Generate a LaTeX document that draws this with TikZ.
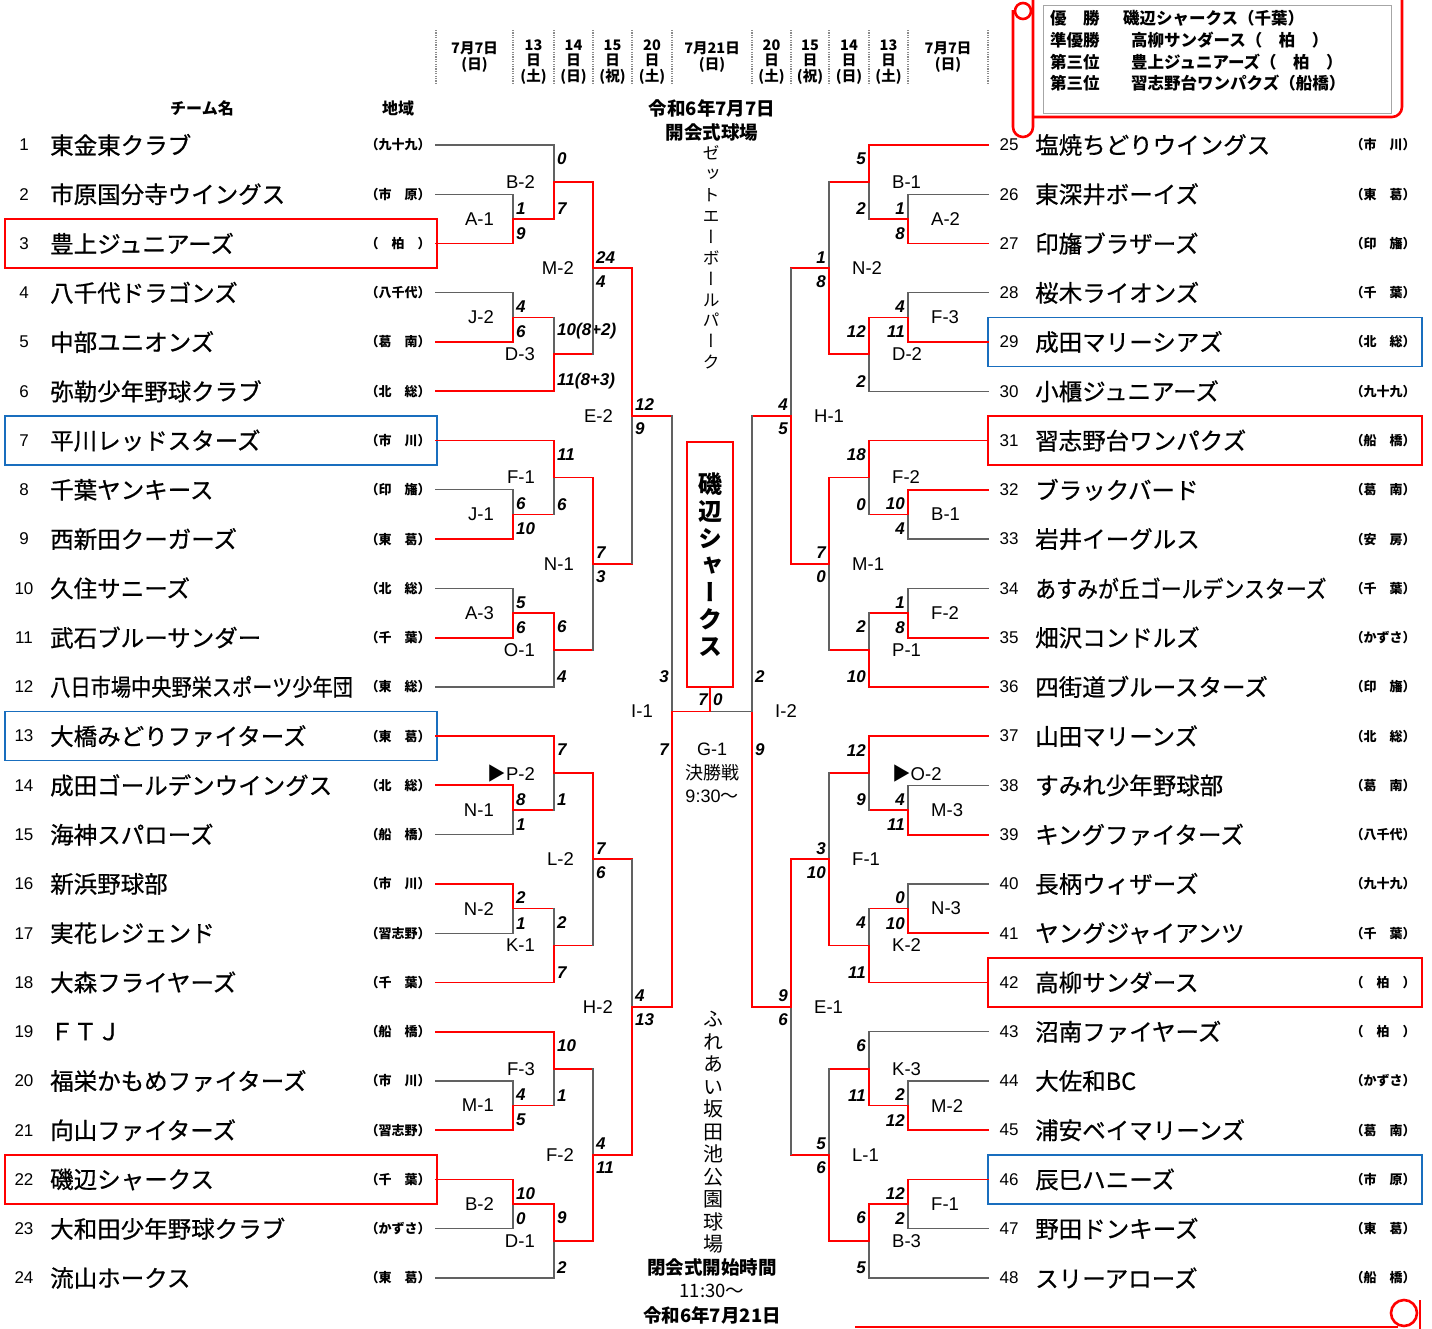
\documentclass[tikz,border=0pt]{standalone}
\usepackage{fontspec}
\setmainfont{Noto Sans CJK JP}
\newfontfamily\vertfont[RawFeature=+vert]{Noto Sans CJK JP}
\newfontfamily\teamfont[FakeBold=0.7]{Noto Sans CJK JP}
\newfontfamily\latinfont{Liberation Sans}
\usetikzlibrary{calc}
\definecolor{markblue}{RGB}{25,110,190}

\def\firsttok#1#2\relax{#1}
\newcommand\narrow[2][0.86]{\scalebox{#1}[1]{#2}}
\newcommand\seg[3]{\if w#1\draw[win] (#2) -- (#3);\else\draw[lose] (#2) -- (#3);\fi}
\newcommand\bout[8]{%
  \path let \p1=(#3), \p2=(#4) in (#2pt,{(\y1+\y2)/2}) coordinate (#1);
  \if a#5\def\resA{w}\def\resB{l}\else\def\resA{l}\def\resB{w}\fi
  \if t\firsttok#3\relax\let\feedA\resA\else\def\feedA{w}\fi
  \if t\firsttok#4\relax\let\feedB\resB\else\def\feedB{w}\fi
  \seg{\feedA}{#3}{#3 -| #1}
  \seg{\resA}{#3 -| #1}{#1}
  \seg{\feedB}{#4}{#4 -| #1}
  \seg{\resB}{#4 -| #1}{#1}
  \node[lbl, lpos] at ($(#1)+(\ldx,0)$) {#6};
  \ifcase\smode
    \node[score, spos] at ($(#3 -| #1)+(\sdx,14)$) {#7};
    \node[score, spos] at ($(#4 -| #1)+(\sdx,-10)$) {#8};
  \or
    \node[score, spos] at ($(#1)+(\sdx,-11)$) {#7};
    \node[score, spos] at ($(#1)+(\sdx,13)$) {#8};
  \fi
}
\newcommand\markL[2]{\draw[#1] ($(t#2)+(-431,-24.5)$) rectangle ($(t#2)+(1,24.5)$);}
\newcommand\markR[2]{\draw[#1] ($(t#2)+(0,-24.5)$) rectangle ($(t#2)+(434,24.5)$);}

\begin{document}
\begin{tikzpicture}[x=1pt, y=-1pt,
  win/.style={red, line width=1.8pt, line cap=rect},
  lose/.style={black!62, line width=1.3pt, line cap=rect},
  redmark/.style={red, line width=1.4pt},
  bluemark/.style={markblue, line width=1.2pt},
  scroll/.style={red, line width=2.6pt},
  sep/.style={black!45, line width=1.2pt, dash pattern=on 1.2pt off 1.2pt},
  num/.style={inner sep=0pt, font=\latinfont\fontsize{17}{17}\selectfont},
  team/.style={inner sep=0pt, anchor=west, font=\teamfont\fontsize{23.5}{24}\selectfont},
  area/.style={inner sep=0pt, font=\bfseries\fontsize{13}{13}\selectfont},
  head/.style={inner sep=0pt, font=\bfseries\fontsize{16}{16}\selectfont},
  date/.style={inner sep=0pt, align=center, font=\bfseries\fontsize{14.5}{15.5}\selectfont},
  title/.style={inner sep=0pt, font=\bfseries\fontsize{18.5}{18.5}\selectfont},
  legend/.style={inner sep=0pt, anchor=west, font=\bfseries\fontsize{16.5}{16.5}\selectfont},
  lbl/.style={inner sep=0pt, font=\latinfont\fontsize{18.5}{18.5}\selectfont},
  score/.style={inner sep=0pt, font=\latinfont\bfseries\itshape\fontsize{17}{17}\selectfont},
  leftside/.style={lpos/.style={anchor=east}, spos/.style={anchor=west}, /utils/exec={\def\ldx{-19}\def\sdx{3}}},
  rightside/.style={lpos/.style={anchor=west}, spos/.style={anchor=east}, /utils/exec={\def\ldx{23}\def\sdx{-3}}},
  atends/.code={\def\smode{0}},
  atmid/.code={\def\smode{1}},
  noscore/.code={\def\smode{2}}]
\fill[white] (0,0) rectangle (1432,1328);
\useasboundingbox (0,0) rectangle (1432,1328);

\foreach \x in {436,513,554,593,632,672,752,791,829,869,908,988}
  \draw[sep] (\x,30) -- (\x,84);
\node[date] at (474.5,57) {\fontsize{14.5}{20}\selectfont 7月7日\\(日)};
\node[date] at (712,57) {\fontsize{14.5}{20}\selectfont 7月21日\\(日)};
\node[date] at (948,57) {\fontsize{14.5}{20}\selectfont 7月7日\\(日)};
\foreach \x/\d/\w in {533.5/13/土, 573.5/14/日, 612.5/15/祝, 652/20/土, 771.5/20/土, 810/15/祝, 849/14/日, 888.5/13/土}
  \node[date] at (\x,62) {\d\\日\\(\w)};

\node[head] at (202,108) {チーム名};
\node[head] at (398,108) {地域};

\foreach \k/\name/\area in {
  1/東金東クラブ/九十九,
  2/市原国分寺ウイングス/市　原,
  3/豊上ジュニアーズ/　柏　,
  4/八千代ドラゴンズ/八千代,
  5/中部ユニオンズ/葛　南,
  6/弥勒少年野球クラブ/北　総,
  7/平川レッドスターズ/市　川,
  8/千葉ヤンキース/印　旛,
  9/西新田クーガーズ/東　葛,
  10/久住サニーズ/北　総,
  11/武石ブルーサンダー/千　葉,
  12/\narrow{八日市場中央野栄スポーツ少年団}/東　総,
  13/大橋みどりファイターズ/東　葛,
  14/成田ゴールデンウイングス/北　総,
  15/海神スパローズ/船　橋,
  16/新浜野球部/市　川,
  17/実花レジェンド/習志野,
  18/大森フライヤーズ/千　葉,
  19/ＦＴＪ/船　橋,
  20/福栄かもめファイターズ/市　川,
  21/向山ファイターズ/習志野,
  22/磯辺シャークス/千　葉,
  23/大和田少年野球クラブ/かずさ,
  24/流山ホークス/東　葛}
{
  \pgfmathsetmacro\yy{145+(\k-1)*49.26}
  \node[num] (n\k) at (24,\yy) {\k};
  \node[team] (m\k) at (50,\yy) {\name};
  \node[area] (r\k) at (398,\yy) {（\area）};
  \coordinate (t\k) at (436,\yy);
}
\foreach \k/\name/\area in {
  25/塩焼ちどりウイングス/市　川,
  26/東深井ボーイズ/東　葛,
  27/印旛ブラザーズ/印　旛,
  28/桜木ライオンズ/千　葉,
  29/成田マリーシアズ/北　総,
  30/小櫃ジュニアーズ/九十九,
  31/習志野台ワンパクズ/船　橋,
  32/ブラックバード/葛　南,
  33/岩井イーグルス/安　房,
  34/\narrow[0.89]{あすみが丘ゴールデンスターズ}/千　葉,
  35/畑沢コンドルズ/かずさ,
  36/四街道ブルースターズ/印　旛,
  37/山田マリーンズ/北　総,
  38/すみれ少年野球部/葛　南,
  39/キングファイターズ/八千代,
  40/長柄ウィザーズ/九十九,
  41/ヤングジャイアンツ/千　葉,
  42/高柳サンダース/　柏　,
  43/沼南ファイヤーズ/　柏　,
  44/大佐和BC/かずさ,
  45/浦安ベイマリーンズ/葛　南,
  46/辰巳ハニーズ/市　原,
  47/野田ドンキーズ/東　葛,
  48/スリーアローズ/船　橋}
{
  \pgfmathsetmacro\yy{145+(\k-25)*49.26}
  \node[num] (n\k) at (1009,\yy) {\k};
  \node[team] (m\k) at (1035,\yy) {\name};
  \node[area] (r\k) at (1383,\yy) {（\area）};
  \coordinate (t\k) at (988,\yy);
}

\markL{redmark}{3}
\markL{bluemark}{7}
\markL{bluemark}{13}
\markL{redmark}{22}
\markR{bluemark}{29}
\markR{redmark}{31}
\markR{redmark}{42}
\markR{bluemark}{46}

\begin{scope}[leftside, atends]
\bout{a1}{513}{t2}{t3}{b}{A-1}{1}{9}
\bout{b1}{554}{t1}{a1}{b}{B-2}{0}{7}
\bout{c1}{513}{t4}{t5}{b}{J-2}{4}{6}
\bout{d1}{554}{c1}{t6}{b}{D-3}{10(8+2)}{11(8+3)}
\bout{a2}{513}{t8}{t9}{b}{J-1}{6}{10}
\bout{b2}{554}{t7}{a2}{a}{F-1}{11}{6}
\bout{c2}{513}{t10}{t11}{b}{A-3}{5}{6}
\bout{d2}{554}{c2}{t12}{a}{O-1}{6}{4}
\bout{a3}{513}{t14}{t15}{a}{N-1}{8}{1}
\bout{b3}{554}{t13}{a3}{a}{{\normalfont▶}P-2}{7}{1}
\bout{c3}{513}{t16}{t17}{a}{N-2}{2}{1}
\bout{d3}{554}{c3}{t18}{b}{K-1}{2}{7}
\bout{a4}{513}{t20}{t21}{b}{M-1}{4}{5}
\bout{b4}{554}{t19}{a4}{a}{F-3}{10}{1}
\bout{c4}{513}{t22}{t23}{a}{B-2}{10}{0}
\bout{d4}{554}{c4}{t24}{a}{D-1}{9}{2}
\end{scope}
\begin{scope}[leftside, atmid]
\bout{e1}{593}{b1}{d1}{a}{M-2}{24}{4}
\bout{e2}{593}{b2}{d2}{a}{N-1}{7}{3}
\bout{e3}{593}{b3}{d3}{a}{L-2}{7}{6}
\bout{e4}{593}{b4}{d4}{b}{F-2}{4}{11}
\bout{f1}{632}{e1}{e2}{a}{E-2}{12}{9}
\bout{f2}{632}{e3}{e4}{b}{H-2}{4}{13}
\end{scope}
\begin{scope}[leftside, noscore]
\bout{i1}{672}{f1}{f2}{b}{I-1}{}{}
\end{scope}

\begin{scope}[rightside, atends]
\bout{a5}{908}{t26}{t27}{b}{A-2}{1}{8}
\bout{b5}{869}{t25}{a5}{a}{B-1}{5}{2}
\bout{c5}{908}{t28}{t29}{b}{F-3}{4}{11}
\bout{d5}{869}{c5}{t30}{a}{D-2}{12}{2}
\bout{a6}{908}{t32}{t33}{a}{B-1}{10}{4}
\bout{b6}{869}{t31}{a6}{a}{F-2}{18}{0}
\bout{c6}{908}{t34}{t35}{b}{F-2}{1}{8}
\bout{d6}{869}{c6}{t36}{b}{P-1}{2}{10}
\bout{a7}{908}{t38}{t39}{b}{M-3}{4}{11}
\bout{b7}{869}{t37}{a7}{a}{{\normalfont▶}O-2}{12}{9}
\bout{c7}{908}{t40}{t41}{b}{N-3}{0}{10}
\bout{d7}{869}{c7}{t42}{b}{K-2}{4}{11}
\bout{a8}{908}{t44}{t45}{b}{M-2}{2}{12}
\bout{b8}{869}{t43}{a8}{b}{K-3}{6}{11}
\bout{c8}{908}{t46}{t47}{a}{F-1}{12}{2}
\bout{d8}{869}{c8}{t48}{a}{B-3}{6}{5}
\end{scope}
\begin{scope}[rightside, atmid]
\bout{e5}{829}{b5}{d5}{b}{N-2}{1}{8}
\bout{e6}{829}{b6}{d6}{a}{M-1}{7}{0}
\bout{e7}{829}{b7}{d7}{b}{F-1}{3}{10}
\bout{e8}{829}{b8}{d8}{b}{L-1}{5}{6}
\bout{f3}{791}{e5}{e6}{b}{H-1}{4}{5}
\bout{f4}{791}{e7}{e8}{a}{E-1}{9}{6}
\end{scope}
\begin{scope}[rightside, noscore]
\bout{i2}{752}{f3}{f4}{b}{I-2}{}{}
\end{scope}

\node[score, anchor=east] at ($(i1)+(-3,-35)$) {3};
\node[score, anchor=east] at ($(i1)+(-3,38)$) {7};
\node[score, anchor=west] at ($(i2)+(3,-35)$) {2};
\node[score, anchor=west] at ($(i2)+(3,38)$) {9};

\node[draw=red, line width=2pt, minimum width=46pt, minimum height=245pt, inner sep=0pt,
  align=center, font=\vertfont\bfseries\fontsize{24}{27}\selectfont]
  (champ) at (710,564.5) {磯\\辺\\シ\\ャ\\ー\\ク\\ス};
\coordinate (fin) at (i1 -| champ);
\draw[lose] (i2) -- (fin);
\draw[win] (i1) -- (fin) -- (champ.south);
\node[score, anchor=east] at ($(fin)+(-2,-12)$) {7};
\node[score, anchor=west] at ($(fin)+(3,-12)$) {0};
\node[align=center, inner sep=0pt, font=\fontsize{18}{23.5}\selectfont] at (712,773)
  {\latinfont G-1\\決勝戦\\\latinfont 9:30{\normalfont 〜}};

\node[title] at (712,108) {令和6年7月7日};
\node[title] at (712,132) {開会式球場};
\node[align=center, inner sep=0pt, font=\vertfont\fontsize{17}{20.9}\selectfont] at (711,257.5)
  {ゼ\\ッ\\ト\\エ\\ー\\ボ\\ー\\ル\\パ\\ー\\ク};
\node[align=center, inner sep=0pt, font=\vertfont\fontsize{20}{22.5}\selectfont] at (713,1132.5)
  {ふ\\れ\\あ\\い\\坂\\田\\池\\公\\園\\球\\場};
\node[title] at (712,1267) {閉会式開始時間};
\node[title, font=\fontsize{18.5}{18.5}\selectfont] at (712,1291) {11:30〜};
\node[title] at (712,1315) {令和6年7月21日};

\draw[black!35, line width=1pt] (1043,5) rectangle (1391,113);
\draw[scroll, rounded corners=10pt] (1033,-10) -- (1033,137) -- (1013,137) -- (1013,10);
\draw[scroll] (1023,11) circle (8);
\draw[scroll, rounded corners=10pt] (1033,117) -- (1402,117) -- (1402,-10);
\node[legend] at (1050,18) {優　勝};
\node[legend] at (1123,18) {磯辺シャークス（千葉）};
\node[legend] at (1050,40) {準優勝};
\node[legend] at (1131,40) {高柳サンダース（　柏　）};
\node[legend] at (1050,62) {第三位};
\node[legend] at (1131,62) {豊上ジュニアーズ（　柏　）};
\node[legend] at (1050,83) {第三位};
\node[legend] at (1131,83) {習志野台ワンパクズ（船橋）};

\draw[scroll] (855,1327) -- (1398,1327);
\draw[scroll] (1404,1313) circle (13);
\draw[scroll] (1420,1300) -- (1420,1332);
\end{tikzpicture}
\end{document}
